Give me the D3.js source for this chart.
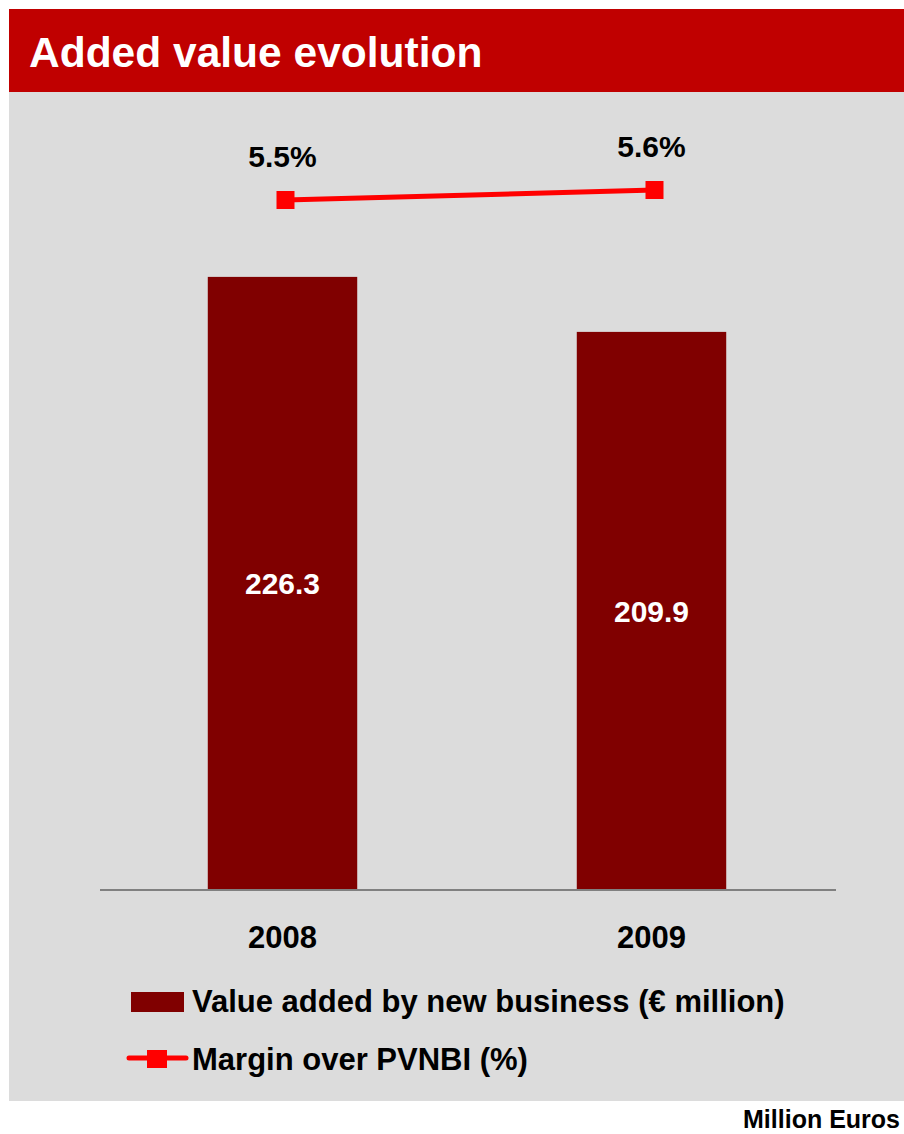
<!DOCTYPE html>
<html>
<head>
<meta charset="utf-8">
<script src="https://cdn.jsdelivr.net/npm/d3@7"></script>
<style>
  html, body { margin: 0; padding: 0; background: #ffffff; }
  svg { display: block; }
  text { font-family: "Liberation Sans", Arial, sans-serif; font-weight: bold; }
</style>
</head>
<body>
<script>
// ---- data ----
const years = ["2008", "2009"];
const valueAdded = [226.3, 209.9];
const margin = [5.5, 5.6];
const valueLabels = ["226.3", "209.9"];
const marginLabels = ["5.5%", "5.6%"];
const title = "Added value evolution";
const legendLabels = ["Value added by new business (€ million)", "Margin over PVNBI (%)"];
const unitNote = "Million Euros";

// ---- layout ----
const W = 904, H = 1134;
const svg = d3.select("body").append("svg").attr("width", W).attr("height", H);

// header
svg.append("rect").attr("x", 9).attr("y", 9).attr("width", W - 9).attr("height", 83).attr("fill", "#C00000");
svg.append("text").attr("x", 29).attr("y", 67).attr("fill", "#ffffff")
  .attr("font-size", 42.5).text(title);

// panel
svg.append("rect").attr("x", 9).attr("y", 92).attr("width", W - 9).attr("height", 1009).attr("fill", "#DCDCDC");

// scales
const x = d3.scaleBand().domain(years).range([98, 836]).paddingInner(0.595).paddingOuter(0.2975);
const y = d3.scaleLinear().domain([43.5, 250]).range([890, 197.4]);
const yl = d3.scaleLinear().domain([4, 6]).range([350, 150]);

// bars
svg.selectAll("rect.bar").data(years).enter().append("rect")
  .attr("class", "bar")
  .attr("x", d => x(d))
  .attr("width", x.bandwidth())
  .attr("y", (d, i) => y(valueAdded[i]))
  .attr("height", (d, i) => y.range()[0] - y(valueAdded[i]))
  .attr("fill", "#800000");

// bar value labels
svg.selectAll("text.val").data(years).enter().append("text")
  .attr("class", "val")
  .attr("x", d => x(d) + x.bandwidth() / 2)
  .attr("y", (d, i) => (y(valueAdded[i]) + y.range()[0]) / 2 + 11)
  .attr("text-anchor", "middle").attr("fill", "#ffffff").attr("font-size", 30)
  .text((d, i) => valueLabels[i]);

// x axis
const xAxis = svg.append("g").attr("transform", "translate(0,890)")
  .call(d3.axisBottom(x).tickSize(0).tickPadding(36));
xAxis.select(".domain").attr("stroke", "#808080").attr("stroke-width", 2)
  .attr("d", "M100,0H836");
xAxis.selectAll("text").attr("font-size", 31).attr("fill", "#000000")
  .attr("font-family", "'Liberation Sans', Arial, sans-serif").attr("font-weight", "bold");

// line
const lineGen = d3.line().x((d, i) => x(years[i]) + x.bandwidth() / 2 + 3).y(d => yl(d));
svg.append("path").datum(margin).attr("d", lineGen)
  .attr("fill", "none").attr("stroke", "#FF0000").attr("stroke-width", 5);
svg.selectAll("rect.mk").data(margin).enter().append("rect")
  .attr("class", "mk")
  .attr("x", (d, i) => x(years[i]) + x.bandwidth() / 2 + 3 - 9)
  .attr("y", d => yl(d) - 9)
  .attr("width", 18).attr("height", 18).attr("fill", "#FF0000");
svg.selectAll("text.mlab").data(margin).enter().append("text")
  .attr("class", "mlab")
  .attr("x", (d, i) => x(years[i]) + x.bandwidth() / 2)
  .attr("y", d => yl(d) - 33)
  .attr("text-anchor", "middle").attr("fill", "#000000").attr("font-size", 30)
  .text((d, i) => marginLabels[i]);

// legend
svg.append("rect").attr("x", 131).attr("y", 992).attr("width", 53).attr("height", 20).attr("fill", "#800000");
svg.append("text").attr("x", 192).attr("y", 1012).attr("font-size", 31).attr("fill", "#000000")
  .text(legendLabels[0]);
svg.append("line").attr("x1", 129).attr("x2", 186).attr("y1", 1058).attr("y2", 1058)
  .attr("stroke", "#FF0000").attr("stroke-width", 5).attr("stroke-linecap", "round");
svg.append("rect").attr("x", 147).attr("y", 1050).attr("width", 20).attr("height", 18).attr("fill", "#FF0000");
svg.append("text").attr("x", 192).attr("y", 1070).attr("font-size", 31).attr("fill", "#000000")
  .text(legendLabels[1]);

// unit note
svg.append("text").attr("x", 900).attr("y", 1128).attr("text-anchor", "end")
  .attr("font-size", 25).attr("fill", "#000000").text(unitNote);
</script>
</body>
</html>
